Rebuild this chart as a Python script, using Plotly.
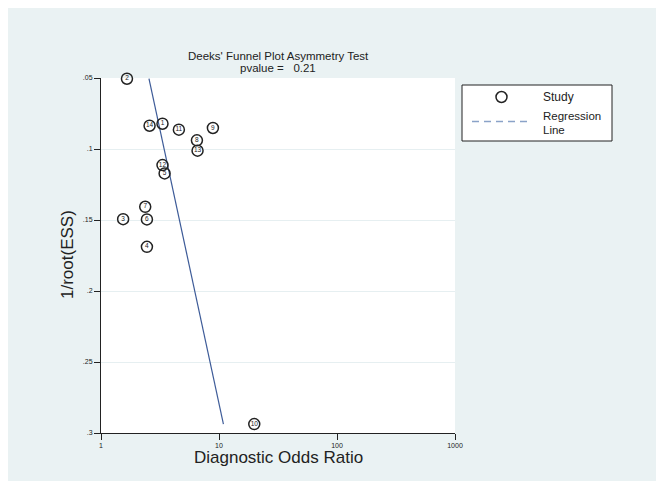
import plotly.graph_objects as go

# ---- data ----
study_ids = ["1", "2", "3", "4", "5", "6", "7", "8", "9", "10", "11", "12", "13", "14"]
dor_values = [3.32, 1.66, 1.54, 2.45, 3.46, 2.45, 2.37, 6.50, 8.88, 19.9, 4.57, 3.32, 6.58, 2.58]
inv_root_ess = [0.0822, 0.0505, 0.1494, 0.1689, 0.1172, 0.1496, 0.1407, 0.0939, 0.0852,
                0.2937, 0.0864, 0.1113, 0.1012, 0.0836]
reg_dor = [2.55, 10.9]
reg_y = [0.0505, 0.2937]
x_ticks = [1, 10, 100, 1000]
x_tick_labels = ["1", "10", "100", "1000"]
y_ticks = [0.05, 0.1, 0.15, 0.2, 0.25, 0.3]
y_tick_labels = [".05", ".1", ".15", ".2", ".25", ".3"]
title_lines = ["Deeks' Funnel Plot Asymmetry Test", "pvalue =   0.21"]

# ---- layout geometry (page has an 8px body margin) ----
OFF = 8
W, H = 652, 473
L, T = 93, 70
PW, PH = 354, 355
R, B = W - L - PW, H - T - PH

def px(x):  # screenshot x -> paper x
    return (x - OFF - L) / PW

def py(y):  # screenshot y -> paper y
    return (T + PH - (y - OFF)) / PH

FONT = "Liberation Sans, Arial, sans-serif"
BG = "#eaf2f3"
DARK = "#222222"
LINE = "#3d5b98"

fig = go.Figure()
fig.add_trace(go.Scatter(
    x=reg_dor, y=reg_y, mode="lines",
    line=dict(color=LINE, width=1.2), showlegend=False, hoverinfo="skip"))
fig.add_trace(go.Scatter(
    x=dor_values, y=inv_root_ess, mode="markers+text",
    text=study_ids, textposition="middle center",
    textfont=dict(family=FONT, size=6.5, color=DARK),
    marker=dict(symbol="circle-open", size=11, color=DARK, line=dict(width=1.5)),
    cliponaxis=False, showlegend=False))

shapes = [
    # legend box
    dict(type="rect", xref="paper", yref="paper",
         x0=px(462), x1=px(612), y0=py(141), y1=py(85),
         fillcolor="white", line=dict(color=DARK, width=1)),
    dict(type="circle", xref="paper", yref="paper",
         xsizemode="pixel", ysizemode="pixel",
         xanchor=px(501.5), yanchor=py(97), x0=-5.5, x1=5.5, y0=-5.5, y1=5.5,
         line=dict(color=DARK, width=1.5)),
    dict(type="line", xref="paper", yref="paper",
         x0=px(472), x1=px(530), y0=py(121.5), y1=py(121.5),
         line=dict(color="#8aa2c8", width=1.5, dash="7px,5px")),
]

def ann(text, x, y, size, xanchor="center", angle=0):
    return dict(text=text, x=px(x), y=py(y), xref="paper", yref="paper",
                showarrow=False, xanchor=xanchor, yanchor="middle", textangle=angle,
                font=dict(family=FONT, size=size, color=DARK))

annotations = [
    ann(title_lines[0], 278, 55.5, 11.5),
    ann(title_lines[1], 278, 68, 11.5),
    ann("Diagnostic Odds Ratio", 278, 458, 17),
    ann("1/root(ESS)", 67, 255, 17, angle=-90),
    ann("Study", 541, 97, 12, xanchor="left"),
    ann("Regression", 541, 116.5, 11.5, xanchor="left"),
    ann("Line", 541, 129.5, 11.5, xanchor="left"),
]

fig.update_layout(
    width=W, height=H,
    margin=dict(l=L, r=R, t=T, b=B, pad=0),
    paper_bgcolor=BG, plot_bgcolor="white",
    font=dict(family=FONT, color=DARK),
    showlegend=False,
    shapes=shapes, annotations=annotations,
    xaxis=dict(type="log", range=[0, 3], tickvals=x_ticks, ticktext=x_tick_labels,
               showgrid=False, zeroline=False, showline=True, linecolor=DARK, linewidth=1,
               ticks="outside", ticklen=6, tickcolor=DARK, tickwidth=1,
               tickfont=dict(family=FONT, size=7, color=DARK)),
    yaxis=dict(range=[0.3, 0.05], tickvals=y_ticks, ticktext=y_tick_labels,
               showgrid=True, gridcolor="#e6eff1", gridwidth=1, zeroline=False,
               showline=True, linecolor=DARK, linewidth=1,
               ticks="outside", ticklen=6, tickcolor=DARK, tickwidth=1,
               tickfont=dict(family=FONT, size=7, color=DARK)),
)

fig.write_html("out.html")
